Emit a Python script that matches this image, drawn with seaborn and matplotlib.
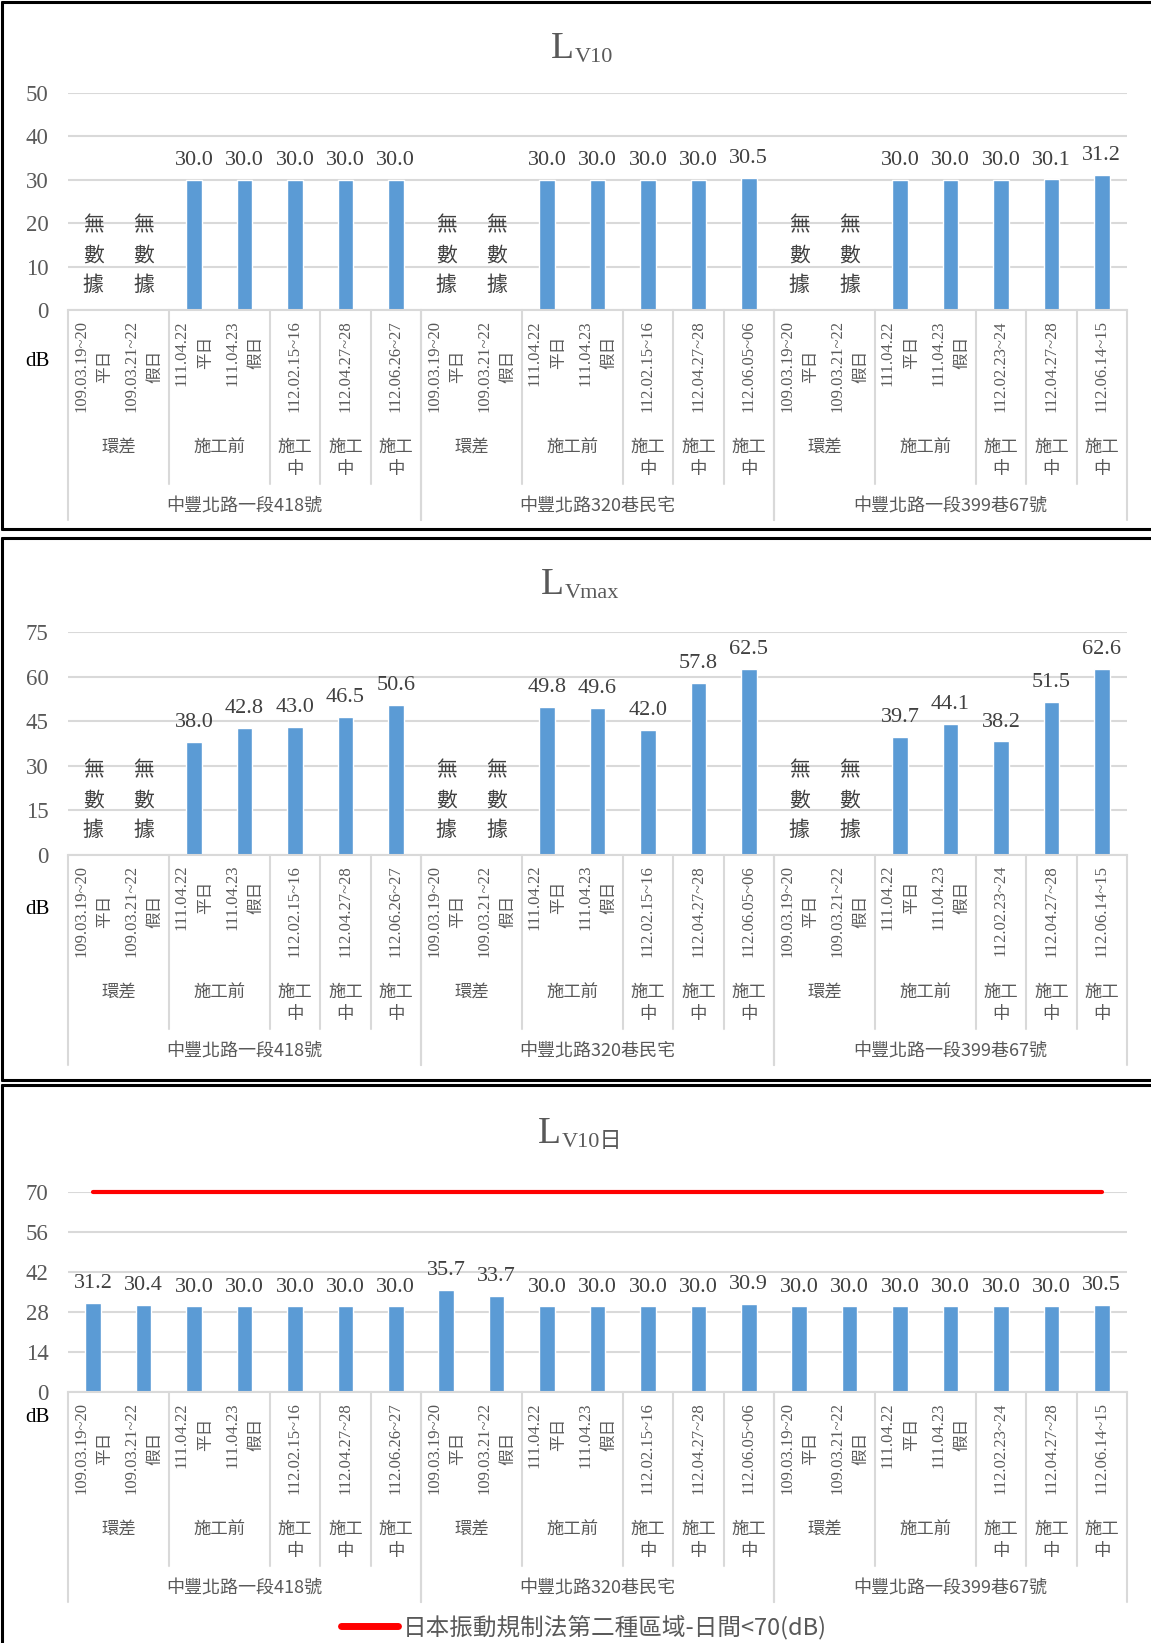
import numpy as np
import pandas as pd
import matplotlib
matplotlib.use("Agg")
import matplotlib.pyplot as plt
import matplotlib.transforms as mtransforms
from matplotlib.lines import Line2D
import seaborn as sns

# ---------------- data ----------------
stations = ["中豐北路一段418號", "中豐北路320巷民宅", "中豐北路一段399巷67號"]
phases = ["環差", "施工前", "施工\n中", "施工\n中", "施工\n中"]
phase_spans = [2, 2, 1, 1, 1]
dates_s1 = ["109.03.19~20\n平日", "109.03.21~22\n假日", "111.04.22\n平日", "111.04.23\n假日",
            "112.02.15~16", "112.04.27~28", "112.06.26~27"]
dates_s2 = ["109.03.19~20\n平日", "109.03.21~22\n假日", "111.04.22\n平日", "111.04.23\n假日",
            "112.02.15~16", "112.04.27~28", "112.06.05~06"]
dates_s3 = ["109.03.19~20\n平日", "109.03.21~22\n假日", "111.04.22\n平日", "111.04.23\n假日",
            "112.02.23~24", "112.04.27~28", "112.06.14~15"]

lv10 = [np.nan, np.nan, 30.0, 30.0, 30.0, 30.0, 30.0,
        np.nan, np.nan, 30.0, 30.0, 30.0, 30.0, 30.5,
        np.nan, np.nan, 30.0, 30.0, 30.0, 30.1, 31.2]
lvmax = [np.nan, np.nan, 38.0, 42.8, 43.0, 46.5, 50.6,
         np.nan, np.nan, 49.8, 49.6, 42.0, 57.8, 62.5,
         np.nan, np.nan, 39.7, 44.1, 38.2, 51.5, 62.6]
lv10_day = [31.2, 30.4, 30.0, 30.0, 30.0, 30.0, 30.0,
            35.7, 33.7, 30.0, 30.0, 30.0, 30.0, 30.9,
            30.0, 30.0, 30.0, 30.0, 30.0, 30.0, 30.5]
limit_70 = [70, 70, 70, 70, 70, 70, 70, 70, 70, 70, 70,
            70, 70, 70, 70, 70, 70, 70, 70, 70, 70]
limit_label = "日本振動規制法第二種區域-日間<70(dB)"
no_data_label = "無\n數\n據"
yticks_1 = [0, 10, 20, 30, 40, 50]
yticks_2 = [0, 15, 30, 45, 60, 75]
yticks_3 = [0, 14, 28, 42, 56, 70]

all_dates = dates_s1 + dates_s2 + dates_s3
keys = [f"{stations[i // 7]}|{d}|{i}" for i, d in enumerate(all_dates)]

# ---------------- style ----------------
sns.set_theme(style="white")
FAM = ["Liberation Serif", "Noto Sans CJK TC", "DejaVu Sans"]
CJK = ["Noto Sans CJK TC", "Liberation Serif", "DejaVu Sans"]
plt.rcParams["font.family"] = FAM
GRAY = "#595959"
DARK = "#404040"
GRID = "#D9D9D9"
BLUE = "#5B9BD5"

W, H = 1151, 1643
fig = plt.figure(figsize=(W / 100, H / 100), dpi=100)
fig.patch.set_facecolor("white")


def fx(px):
    return px / W


def fy(px):
    return 1 - px / H


PL, PR = 68, 1127

panels = [
    dict(values=lv10, ticks=yticks_1, top=93, bottom=310, sub="V10",
         tx=574, ty=58, db=362, nodata=True, limit=False),
    dict(values=lvmax, ticks=yticks_2, top=632, bottom=855, sub="Vmax",
         tx=564, ty=594, db=910, nodata=True, limit=False),
    dict(values=lv10_day, ticks=yticks_3, top=1192, bottom=1392, sub="V10日",
         tx=561, ty=1143, db=1417, nodata=False, limit=True),
]

for p in panels:
    ax = fig.add_axes([fx(PL), fy(p["bottom"]), fx(PR) - fx(PL),
                       (p["bottom"] - p["top"]) / H])
    df = pd.DataFrame({"key": keys, "value": p["values"]})
    sns.barplot(data=df.dropna(), x="key", y="value", order=keys, color=BLUE,
                saturation=1, width=0.31, errorbar=None, ax=ax)
    for cont in ax.containers:
        ax.bar_label(cont, fmt="%.1f", padding=7, fontsize=16, color=DARK,
                     family=FAM)
    if p["limit"]:
        sns.lineplot(x=np.arange(len(keys)), y=limit_70, color="#FF0000",
                     linewidth=3, ax=ax, label=limit_label, clip_on=False)
        ax.legend(loc="center", bbox_to_anchor=(fx(584), fy(1627)),
                  bbox_transform=fig.transFigure, frameon=False,
                  handlelength=2.4, handletextpad=0.2,
                  prop={"family": CJK, "size": 17}, labelcolor=GRAY)
        for line in ax.get_legend().get_lines():
            line.set_linewidth(5)
    ax.set_xlim(-0.5, len(keys) - 0.5)
    ax.set_ylim(p["ticks"][0], p["ticks"][-1])
    ax.set_yticks(p["ticks"])
    ax.set_xticks([])
    ax.set_xlabel("")
    ax.set_ylabel("")
    ax.tick_params(axis="y", length=0, pad=14, labelsize=16.5, labelcolor=GRAY)
    ax.grid(axis="y", color=GRID, linewidth=1.5)
    ax.set_axisbelow(True)
    for s in ["top", "left", "right"]:
        ax.spines[s].set_visible(False)
    ax.spines["bottom"].set_color(GRID)
    ax.spines["bottom"].set_linewidth(1.5)

    trans = mtransforms.blended_transform_factory(ax.transData, fig.transFigure)
    b = p["bottom"]
    # date labels
    for i, d in enumerate(all_dates):
        ax.text(i, fy(b + 10), d, transform=trans, rotation=90, ha="center",
                va="top", multialignment="center", fontsize=12, color=GRAY,
                family=FAM, linespacing=1.7)
        if p["nodata"] and np.isnan(p["values"][i]):
            ax.text(i, fy(b - 14), no_data_label, transform=trans, ha="center",
                    va="bottom", fontsize=15, color=DARK, family=CJK,
                    linespacing=1.45)
    # phase labels & separators
    for si, st in enumerate(stations):
        start = si * 7
        pos = start
        for ph, sp in zip(phases, phase_spans):
            cx = pos + (sp - 1) / 2
            ax.text(cx, fy(b + 128), ph, transform=trans, ha="center", va="top",
                    multialignment="center", fontsize=12.5, color=GRAY,
                    family=CJK, linespacing=1.3)
            pos += sp
            if pos < start + 7:
                ax.add_artist(Line2D([pos - 0.5, pos - 0.5], [fy(b), fy(b + 174)],
                                     transform=trans, color=GRID, lw=1.5,
                                     clip_on=False))
        ax.text(start + 3, fy(b + 196), st, transform=trans, ha="center",
                va="center", fontsize=13, color=GRAY, family=CJK)
        for xb in [start - 0.5, start + 6.5]:
            ax.add_artist(Line2D([xb, xb], [fy(b), fy(b + 210)], transform=trans,
                                 color=GRID, lw=1.5, clip_on=False))
    # title
    fig.text(fx(p["tx"]), fy(p["ty"]), "L", ha="right", va="baseline",
             fontsize=27, color=GRAY, family=FAM)
    fig.text(fx(p["tx"] + 1), fy(p["ty"] + 4), p["sub"], ha="left",
             va="baseline", fontsize=16, color=GRAY, family=FAM)
    # dB
    fig.text(fx(37), fy(p["db"]), "dB", ha="center", va="center", fontsize=15,
             color="black", family=FAM)

# frames
frames = [(2, 529, True), (538, 1080, True), (1085, None, False)]
for top, bot, has_bot in frames:
    yb = fy(bot) if has_bot else 0
    fig.add_artist(Line2D([fx(2), fx(2)], [fy(top), yb], color="black", lw=2.2,
                          transform=fig.transFigure))
    fig.add_artist(Line2D([fx(2), 1], [fy(top), fy(top)], color="black", lw=2.2,
                          transform=fig.transFigure))
    if has_bot:
        fig.add_artist(Line2D([fx(2), 1], [yb, yb], color="black", lw=2.2,
                              transform=fig.transFigure))

fig.savefig("out.png", dpi=100, facecolor="white")
